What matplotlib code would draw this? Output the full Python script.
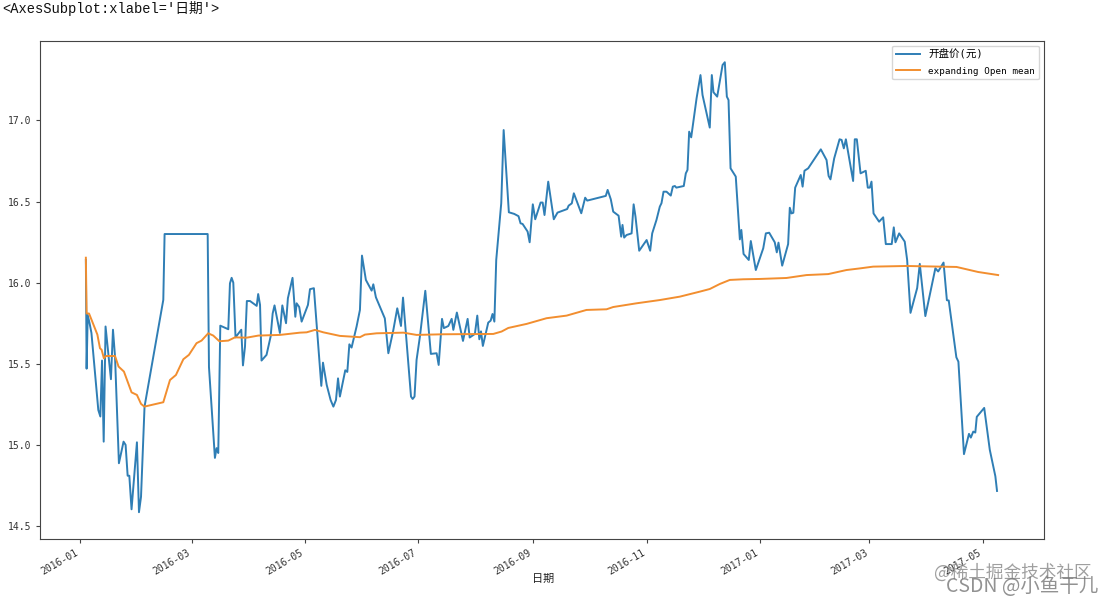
import numpy as np
import pandas as pd
import matplotlib
matplotlib.use("Agg")
import matplotlib.pyplot as plt
import matplotlib.dates as mdates

strBlue = "#2f7eb5"
strOrange = "#f28e2f"
vecFont = ["DejaVu Sans Mono", "Noto Sans CJK SC"]

# days since 2016-01-01
vecOpenDays = [3, 3.4, 4, 5, 6, 9.7, 10.8, 11.7, 12.6, 13.6, 14.7, 16.5, 17.6, 18.7, 20.8, 23.3, 24.4, 25.5, 26.4, 27.6,
               30.5, 31.6, 32.7, 34.6, 44.7, 45.4, 68.6, 69.3, 72.5, 73.4, 74.3, 75.4, 79.7, 80.6, 81.5, 82.4, 83.6, 86.7,
               87.6, 88.7, 89.7, 91.4, 95, 95.8, 96.8, 97.6, 100.3, 102.5, 103.6, 104.6, 107.5, 108.8, 110.8, 111.8, 114.3,
               115.8, 116.5, 117.9, 119.2, 122.6, 123.7, 125.8, 129.8, 130.7, 132.7, 134.8, 136.3, 137.7, 138.8, 139.8,
               142.7, 143.8, 144.9, 146.1, 148.8, 150.6, 151.7, 153.8, 156.9, 157.8, 159.2, 164, 165.9, 168.6, 170.7, 172.7,
               173.8, 176.1, 178.1, 179, 180, 181.1, 182.9, 185.8, 188.8, 191.9, 193, 194.8, 195.8, 198.2, 200, 200.9, 202.8,
               206.1, 208.6, 209.7, 212.5, 213.8, 214.9, 215.8, 216.8, 219.7, 221, 222, 223, 224, 226.7, 228, 230.8, 233.7,
               236, 237.1, 238.2, 240.9, 242, 243.7, 245, 247.9, 249, 250, 252, 255, 257, 262.2, 263, 264.7, 265.8, 269.8,
               271.9, 273, 283, 284, 285.7, 287, 289.9, 291.3, 292, 292.9, 294.2, 296.9, 298, 299, 301, 305, 306.9, 308, 310.3,
               312.1, 313, 314.1, 315.7, 318, 319.1, 320.2, 321, 325, 326.1, 327, 327.9, 329, 331.9, 334, 335.1, 339, 340.1,
               341, 343, 345.9, 347.1, 348.2, 349.1, 350.2, 353, 355.2, 356, 357.2, 360, 361.1, 363.8, 367.8, 369.2, 371, 374,
               375.1, 376, 378, 381.2, 382.1, 383, 384, 385, 388, 389, 390, 392, 398.8, 401.9, 403, 404, 406, 408.9, 410,
               411.2, 412.3, 416.2, 417.1, 418.2, 420.2, 423, 424.1, 425.2, 426.1, 427.2, 430.2, 432.4, 433.8, 437, 438.1,
               439, 441, 444, 445.3, 447.1, 450.7, 452.1, 455.1, 460.5, 462, 464.9, 466.7, 467.7, 471.8, 472.9, 475.9, 478.6,
               479.6, 480.9, 482, 482.8, 486.8, 489.8, 492.8, 493.7]
vecOpenVals = [16.14, 15.47, 15.80, 15.75, 15.69, 15.215, 15.175, 15.52, 15.02, 15.73, 15.606, 15.405, 15.71, 15.545, 14.887,
               15.02, 15.0, 14.81, 14.81, 14.603, 15.016, 14.585, 14.68, 15.236, 15.894, 16.30, 16.30, 15.48, 14.92, 14.98,
               14.95, 15.735, 15.713, 15.996, 16.03, 16.0, 15.663, 15.71, 15.49, 15.606, 15.887, 15.887, 15.857, 15.93, 15.863,
               15.52, 15.555, 15.668, 15.81, 15.86, 15.69, 15.86, 15.75, 15.904, 16.03, 15.79, 15.873, 15.85, 15.76, 15.863,
               15.96, 15.966, 15.364, 15.507, 15.37, 15.277, 15.236, 15.277, 15.41, 15.298, 15.46, 15.45, 15.62, 15.6, 15.73,
               15.832, 16.167, 16.017, 15.951, 15.99, 15.91, 15.78, 15.565, 15.709, 15.842, 15.733, 15.908, 15.586, 15.298,
               15.283, 15.298, 15.524, 15.668, 15.95, 15.561, 15.565, 15.493, 15.777, 15.72, 15.733, 15.777, 15.709, 15.816,
               15.641, 15.777, 15.662, 15.684, 15.797, 15.651, 15.7, 15.61, 15.754, 15.766, 15.807, 15.76, 16.14, 16.49, 16.941,
               16.434, 16.424, 16.41, 16.366, 16.362, 16.315, 16.249, 16.483, 16.391, 16.494, 16.494, 16.417, 16.623, 16.391,
               16.432, 16.454, 16.475, 16.489, 16.551, 16.428, 16.524, 16.506, 16.535, 16.572, 16.514, 16.438, 16.413, 16.284,
               16.356, 16.278, 16.294, 16.304, 16.483, 16.407, 16.197, 16.263, 16.197, 16.304, 16.387, 16.469, 16.49, 16.561,
               16.561, 16.537, 16.592, 16.596, 16.586, 16.596, 16.674, 16.695, 16.931, 16.896, 17.137, 17.28, 17.157, 16.956,
               17.28, 17.174, 17.147, 17.342, 17.359, 17.147, 17.126, 16.705, 16.654, 16.267, 16.325, 16.177, 16.14, 16.257,
               16.078, 16.212, 16.304, 16.308, 16.249, 16.187, 16.247, 16.105, 16.238, 16.462, 16.427, 16.431, 16.586, 16.664,
               16.592, 16.69, 16.705, 16.822, 16.756, 16.658, 16.637, 16.766, 16.884, 16.88, 16.828, 16.884, 16.627, 16.884,
               16.884, 16.674, 16.69, 16.586, 16.586, 16.623, 16.427, 16.376, 16.403, 16.238, 16.238, 16.341, 16.249, 16.304,
               16.253, 16.14, 15.814, 15.967, 16.116, 15.794, 16.089, 16.069, 16.124, 15.892, 15.89, 15.54, 15.513, 14.943,
               15.068, 15.045, 15.082, 15.076, 15.173, 15.228, 14.97, 14.807, 14.716]

vecMeanDays = [3, 3.4, 4.7, 6.1, 9.2, 10.6, 11.5, 12.7, 13.8, 18.7, 20.6, 23.5, 27.6, 30.5, 32.7, 34.5, 44.7, 48.3, 51.5, 55.5,
               58.5, 62.6, 65.3, 68.9, 71.6, 74.9, 79.7, 83.3, 89.6, 95.9, 107.5, 118.3, 121.9, 126.4, 130.9, 139.8, 150.6,
               153.3, 159.6, 174, 181.1, 195.5, 222.4, 226.9, 230.5, 240.4, 251.1, 261.9, 272.6, 283.4, 287, 299.6, 312.1,
               322.9, 333.7, 339, 344.4, 349.8, 357, 366, 380.3, 391.1, 402.8, 412.6, 419.8, 427, 445, 471.9, 483.5, 494.3]
vecMeanVals = [16.154, 15.81, 15.81, 15.77, 15.68, 15.596, 15.586, 15.534, 15.548, 15.548, 15.483, 15.452, 15.324, 15.308,
               15.253, 15.236, 15.263, 15.4, 15.431, 15.528, 15.555, 15.627, 15.643, 15.688, 15.674, 15.639, 15.643, 15.663,
               15.661, 15.674, 15.678, 15.692, 15.694, 15.709, 15.694, 15.672, 15.664, 15.68, 15.688, 15.692, 15.678, 15.682,
               15.684, 15.699, 15.721, 15.746, 15.781, 15.797, 15.832, 15.836, 15.85, 15.873, 15.893, 15.914, 15.945, 15.961,
               15.992, 16.017, 16.021, 16.023, 16.029, 16.047, 16.053, 16.078, 16.088, 16.099, 16.103, 16.097, 16.066, 16.047]


def ToDates(vecDays):
    return pd.Timestamp("2016-01-01") + pd.to_timedelta(np.array(vecDays), unit="D")


fig = plt.figure(figsize=(11.14, 6.03), dpi=100)
ax = fig.add_axes([40 / 1114, 1 - 538.5 / 603, 1004 / 1114, 498 / 603])

ax.plot(ToDates(vecOpenDays), vecOpenVals, color=strBlue, linewidth=1.4, label="开盘价(元)")
ax.plot(ToDates(vecMeanDays), vecMeanVals, color=strOrange, linewidth=1.4, label="expanding Open mean")

ax.set_xlim(ToDates([-21.7])[0], ToDates([519])[0])
ax.set_ylim(14.423, 17.493)
ax.set_yticks([14.5, 15.0, 15.5, 16.0, 16.5, 17.0])
ax.xaxis.set_major_locator(mdates.MonthLocator(bymonth=[1, 3, 5, 7, 9, 11]))
ax.xaxis.set_major_formatter(mdates.DateFormatter("%Y-%m"))

ax.tick_params(labelsize=7, color="#444444", labelcolor="#333333", length=3)
for lbl in ax.get_yticklabels():
    lbl.set_family(vecFont)
for lbl in ax.get_xticklabels():
    lbl.set_family(vecFont)
    lbl.set_rotation(30)
    lbl.set_ha("right")
for spine in ax.spines.values():
    spine.set_color("#444444")

leg = ax.legend(loc="upper right", prop={"family": vecFont, "size": 6.7}, handlelength=2.6, handletextpad=0.85,
                labelspacing=0.75, borderaxespad=0.55)
leg.get_texts()[0].set_fontsize(7.6)

fig.text(543 / 1114, 1 - 579 / 603, "日期", ha="center", va="center", family=vecFont, fontsize=8, color="#222222")
fig.text(2 / 1114, 1 - 8 / 603, "<AxesSubplot:xlabel='日期'>", ha="left", va="center",
         family=["Liberation Mono", "Noto Sans CJK SC"], fontsize=9.9, color="#111111")

# watermark over the bottom right corner
fig.text(1092 / 1114, 1 - 573 / 603, "@稀土掘金技术社区", ha="right", va="center", family="Noto Sans CJK SC",
         fontsize=12.7, color="#777777", alpha=0.7)
fig.text(1098 / 1114, 1 - 587 / 603, "CSDN @小鱼干儿", ha="right", va="center", family="Noto Sans CJK SC",
         fontsize=14, color="#777777", alpha=0.8)

fig.savefig("out.png", dpi=100)
